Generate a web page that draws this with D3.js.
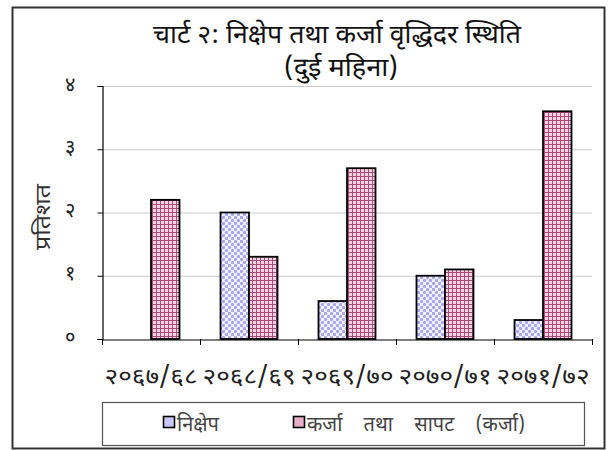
<!DOCTYPE html>
<html><head><meta charset="utf-8">
<script src="https://cdn.jsdelivr.net/npm/d3@7"></script>
<style>
body{margin:0;background:#fff;}
text{font-family:"Noto Sans Devanagari","Lohit Devanagari","Mangal","FreeSerif","Noto Serif Devanagari",serif;}
</style></head><body>
<svg id="c" width="608" height="450"></svg>
<script>
const titleLines = ["चार्ट २: निक्षेप तथा कर्जा  वृद्धिदर स्थिति", "(दुई महिना)"];
const yTitle = "प्रतिशत";
const categories = ["२०६७/६८", "२०६८/६९", "२०६९/७०", "२०७०/७१", "२०७१/७२"];
const seriesNames = ["निक्षेप", "कर्जा तथा सापट (कर्जा)"];
const deposit = [0, 2.0, 0.6, 1.0, 0.3];
const loan = [2.2, 1.3, 2.7, 1.1, 3.6];
const yTicks = [0, 1, 2, 3, 4];
const yTickLabels = ["०", "१", "२", "३", "४"];

(function(){
const svg = d3.select("#c");
const defs = svg.append("defs");
const pb = defs.append("pattern").attr("id","pBlue").attr("patternUnits","userSpaceOnUse").attr("width",6).attr("height",6);
pb.append("rect").attr("width",6).attr("height",6).attr("fill","#F4F4FF");
pb.append("circle").attr("cx",1.5).attr("cy",1.5).attr("r",1.7).attr("fill","#A8A8F2");
pb.append("circle").attr("cx",4.5).attr("cy",4.5).attr("r",1.7).attr("fill","#A8A8F2");
const pp = defs.append("pattern").attr("id","pPink").attr("patternUnits","userSpaceOnUse").attr("width",4).attr("height",4);
pp.append("rect").attr("width",4).attr("height",4).attr("fill","#F7D3E3");
pp.append("rect").attr("x",0).attr("y",0).attr("width",4).attr("height",1).attr("fill","#A84C78");
pp.append("rect").attr("x",0).attr("y",0).attr("width",1).attr("height",4).attr("fill","#A84C78");

svg.append("rect").attr("x",12.5).attr("y",7.5).attr("width",592).attr("height",441)
  .attr("fill","#fff").attr("stroke","#333").attr("stroke-width",2);

const pL=102, pR=592, pT=86, pB=339;
const x0 = d3.scaleBand().domain(categories).range([pL,pR]).paddingInner(0).paddingOuter(0);
const x1 = d3.scaleBand().domain([0,1]).range([0,x0.bandwidth()]).paddingInner(0).paddingOuter(0.72);
const y = d3.scaleLinear().domain([0,4]).range([pB,pT]);

svg.append("g").selectAll("line").data(yTicks.slice(1)).join("line")
  .attr("x1",pL).attr("x2",pR).attr("y1",d=>y(d)+0.5).attr("y2",d=>y(d)+0.5)
  .attr("stroke","#C8C8C8").attr("stroke-width",1);

const data = categories.map((c,i)=>({c, vals:[deposit[i], loan[i]]}));
const g = svg.append("g");
data.forEach(d=>{
  d.vals.forEach((v,j)=>{
    if(v<=0) return;
    g.append("rect")
      .attr("x", x0(d.c)+x1(j))
      .attr("y", y(v))
      .attr("width", x1.bandwidth())
      .attr("height", y(0)-y(v))
      .attr("fill", j===0?"url(#pBlue)":"url(#pPink)")
      .attr("stroke","#000").attr("stroke-width",1.8);
  });
});

const yAxis = d3.axisLeft(y).tickValues(yTicks).tickFormat((d,i)=>yTickLabels[i]).tickSize(5).tickPadding(22);
const ya = svg.append("g").attr("transform",`translate(${pL+0.5},0)`).call(yAxis);
ya.select(".domain").attr("stroke","#000").attr("stroke-width",1.2);
ya.selectAll(".tick line").attr("stroke","#000");
ya.selectAll(".tick text").attr("font-size",20).attr("fill","#222").attr("dy","0.2em");

const xAxis = d3.axisBottom(x0).tickSize(0).tickFormat(d=>d);
const xa = svg.append("g").attr("transform",`translate(0,${pB+0.5})`).call(xAxis);
xa.select(".domain").attr("stroke","#000").attr("stroke-width",1.2);
xa.selectAll(".tick text").attr("font-size",23).attr("fill","#222").attr("y",0).attr("dy",0)
  .attr("transform","translate(0,44)")
  .attr("textLength",93).attr("lengthAdjust","spacingAndGlyphs");
const bounds = categories.map(c=>x0(c)).concat([pR]);
svg.append("g").selectAll("line").data(bounds).join("line")
  .attr("x1",d=>d+0.5).attr("x2",d=>d+0.5).attr("y1",pB).attr("y2",pB+6)
  .attr("stroke","#000");

svg.append("text").attr("x",337).attr("y",43).attr("text-anchor","middle")
  .attr("font-size",26).attr("fill","#111").attr("textLength",368).attr("lengthAdjust","spacingAndGlyphs").text(titleLines[0]);
svg.append("text").attr("x",341).attr("y",76).attr("text-anchor","middle")
  .attr("font-size",26).attr("fill","#111").attr("textLength",114).attr("lengthAdjust","spacingAndGlyphs").text(titleLines[1]);

svg.append("text").attr("transform","translate(50,217) rotate(-90)").attr("text-anchor","middle")
  .attr("font-size",21).attr("fill","#333").attr("textLength",66).attr("lengthAdjust","spacingAndGlyphs").text(yTitle);

svg.append("rect").attr("x",102.5).attr("y",402.5).attr("width",482).attr("height",43)
  .attr("fill","#fff").attr("stroke","#555").attr("stroke-width",1.2);
const leg = [{x:163, fill:"#C8C8FF", name:seriesNames[0], ws:0},{x:293, fill:"#E8B0C8", name:seriesNames[1], ws:16}];
leg.forEach(l=>{
  svg.append("rect").attr("x",l.x+0.5).attr("y",416.5).attr("width",11).attr("height",11)
    .attr("fill",l.fill).attr("stroke","#000").attr("stroke-width",1.6);
  svg.append("text").attr("x",l.x+14).attr("y",431).attr("font-size",20).attr("fill","#444")
    .attr("word-spacing",l.ws).text(l.name);
});
})();
</script>
</body></html>
